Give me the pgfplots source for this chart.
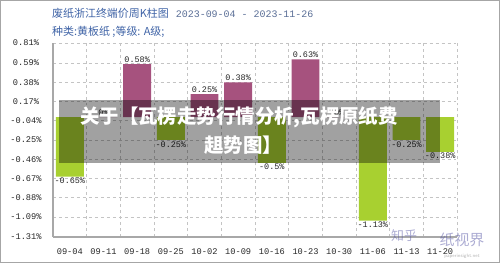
\documentclass[border=0pt]{standalone}
\usepackage{pgfplots}
\pgfplotsset{compat=1.18}
\usepackage{pgfplotstable}
\usepackage{fontspec}
\setmainfont{Liberation Sans}
\setmonofont{Liberation Mono}
\newfontfamily\cjk{Noto Sans CJK SC}
\definecolor{posc}{HTML}{A6527E}
\definecolor{negc}{HTML}{A8D030}
\definecolor{titleblue}{HTML}{3F63A6}
\definecolor{dateblue}{HTML}{5A6E96}
\definecolor{gridc}{HTML}{C4C4C4}
\definecolor{axisc}{HTML}{A8A8A8}

\pgfplotstableread{
x val
1 0
2 0.58
4 0.25
5 0.38
7 0.63
8 0
}\posdata
\pgfplotstableread{
x val
0 -0.65
3 -0.25
6 -0.5
9 -1.13
10 -0.25
11 -0.38
}\negdata

\begin{document}
\begin{tikzpicture}
\useasboundingbox (0,0) rectangle (500bp,263bp);
\draw[color=gray!70, line width=1bp] (0.5bp,0.5bp) rectangle (499.5bp,262.5bp);
\begin{axis}[
  at={(53bp,26bp)}, anchor=south west,
  width=404bp, height=194bp, scale only axis,
  xmin=-0.5, xmax=11.5, ymin=-1.31, ymax=0.81,
  axis x line*=bottom, axis y line*=left,
  axis line style={axisc, line width=1.3bp, -},
  xtick={0,...,11},
  xticklabels={09-04,09-11,09-18,09-25,10-02,10-09,10-16,10-23,10-30,11-06,11-13,11-20},
  minor xtick={0.5,1.5,...,11.5},
  xminorgrids, ymajorgrids,
  minor grid style={gridc, dashed, line width=0.6bp},
  major grid style={gridc, dashed, line width=0.6bp},
  ytick={0.81,0.59,0.38,0.17,-0.04,-0.25,-0.46,-0.67,-0.88,-1.09,-1.31},
  yticklabels={0.81\%,0.59\%,0.38\%,0.17\%,-0.04\%,-0.25\%,-0.46\%,-0.67\%,-0.88\%,-1.09\%,-1.31\%},
  major tick length=0, minor tick length=0,
  tick label style={font=\ttfamily\fontsize{8.7}{9}\selectfont, text=black!85},
  xticklabel style={anchor=center, yshift=-14.5bp},
  yticklabel style={anchor=center, xshift=-27bp},
  ybar, bar width=0.83,
  nodes near coords={\pgfmathprintnumber[fixed,precision=2,assume math mode=true]{\pgfplotspointmeta}\%},
  nodes near coords align=vertical,
  every node near coord/.append style={font=\ttfamily\fontsize{8.5}{9}\selectfont, text=black!85, inner sep=1.2bp},
  clip=false,
]
\addplot[ybar, bar shift=0pt, fill=posc, draw=none] table[x=x, y=val] {\posdata};
\addplot[ybar, bar shift=0pt, fill=negc, draw=none] table[x=x, y=val] {\negdata};
\end{axis}
% title
\node[anchor=west, inner sep=0, text=titleblue, font=\cjk\fontsize{11}{12}\selectfont] at (52bp,249.7bp)
  {废纸浙江终端价周K柱图\hspace{7bp}\textcolor{dateblue}{\ttfamily\fontsize{10}{11}\selectfont 2023-09-04 - 2023-11-26}};
\node[anchor=west, inner sep=0, text=titleblue, font=\cjk\fontsize{11}{12}\selectfont] at (52bp,231.3bp)
  {种类:黄板纸 ;等级: A级;};
% overlay banner
\fill[black, opacity=0.37] (59bp,100bp) rectangle (440bp,163bp);
\node[text=white, font=\cjk\bfseries\fontsize{19.5}{21}\selectfont, inner sep=0] at (239bp,146bp) {关于【瓦楞走势行情分析,瓦楞原纸费};
\node[text=white, font=\cjk\bfseries\fontsize{19.5}{21}\selectfont, inner sep=0] at (243bp,118bp) {趄势图】};
% watermark
\node[text=gray!70!blue, opacity=0.5, font=\cjk\fontsize{13}{14}\selectfont, inner sep=0] at (404bp,27bp) {知乎};
\node[text=gray!70!blue, opacity=0.5, font=\cjk\fontsize{15}{16}\selectfont, inner sep=0] at (462bp,23bp) {纸视界};
\node[text=gray, opacity=0.6, font=\sffamily\fontsize{5}{6}\selectfont, inner sep=0] at (462bp,7bp) {paperinsight.net};
\end{tikzpicture}
\end{document}
